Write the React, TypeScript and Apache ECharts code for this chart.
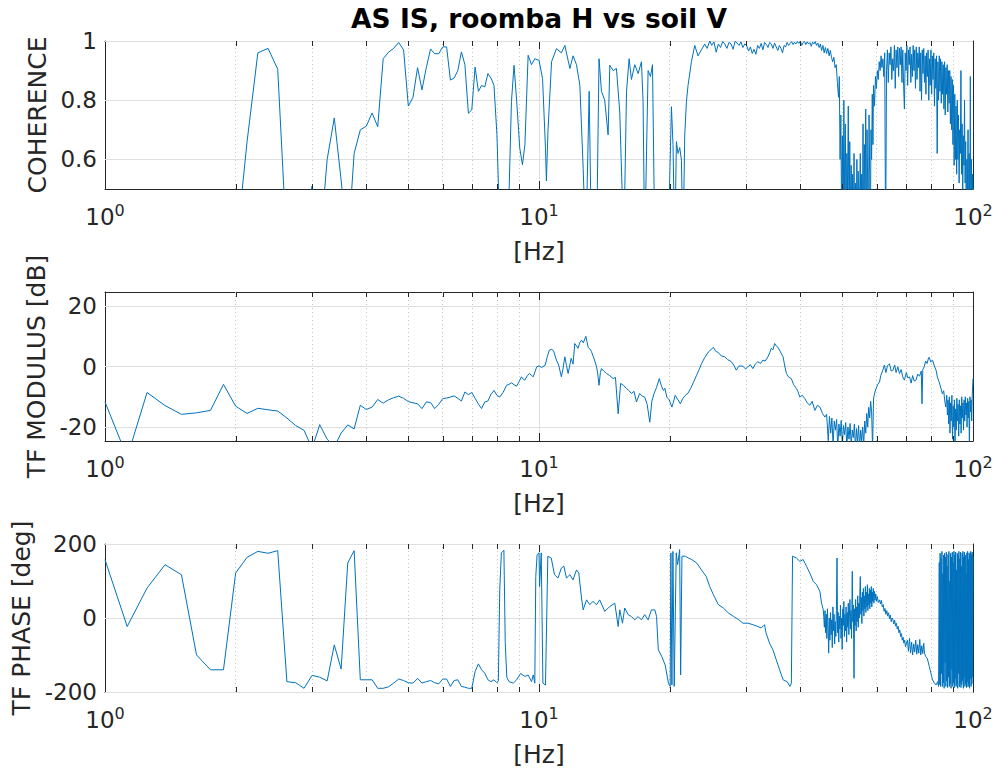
import React, { useEffect, useRef } from 'react';
import * as echarts from 'echarts';

const TITLE = 'AS IS, roomba H vs soil V';
const X_LABEL = '[Hz]';
const Y_LABELS = ['COHERENCE', 'TF MODULUS [dB]', 'TF PHASE [deg]'];
const MINOR_FREQS = [2, 3, 4, 5, 6, 7, 8, 9, 20, 30, 40, 50, 60, 70, 80, 90];
const COH_TICKS = [0.6, 0.8, 1];
const MOD_TICKS = [-20, 0, 20];
const PH_TICKS = [-200, 0, 200];

const COHERENCE: number[][] = [
  [1.0, 0.18], [1.5, 0.3], [2.0, 0.28], [2.125, 0.66], [2.25, 0.96], [2.375, 0.975], [2.5, 0.905], [2.625, 0.3],
  [2.75, 0.2], [2.875, 0.35], [3.0, 0.51], [3.125, 0.3], [3.25, 0.6], [3.375, 0.74], [3.5, 0.53], [3.625, 0.3],
  [3.75, 0.62], [3.875, 0.7], [4.0, 0.712], [4.125, 0.757], [4.25, 0.71], [4.375, 0.94], [4.5, 0.962], [4.625, 0.975],
  [4.75, 0.995], [4.875, 0.97], [5.0, 0.78], [5.125, 0.81], [5.25, 0.91], [5.375, 0.835], [5.5, 0.91], [5.625, 0.973],
  [5.75, 0.957], [5.875, 0.957], [6.0, 0.98], [6.125, 0.98], [6.25, 0.868], [6.375, 0.875], [6.5, 0.9], [6.625, 0.963],
  [6.75, 0.92], [6.875, 0.756], [7.0, 0.767], [7.125, 0.912], [7.25, 0.83], [7.375, 0.85], [7.5, 0.845], [7.625, 0.89],
  [7.75, 0.875], [7.875, 0.85], [8.0, 0.683], [8.125, 0.35], [8.25, 0.2], [8.5, 0.4], [8.64, 0.795], [8.76, 0.918],
  [8.88, 0.8], [9.03, 0.638], [9.16, 0.582], [9.28, 0.65], [9.44, 0.952], [9.61, 0.92], [9.78, 0.94], [10.0, 0.935],
  [10.19, 0.873], [10.35, 0.638], [10.4, 0.527], [10.49, 0.7], [10.69, 0.93], [10.97, 0.974], [11.26, 0.96], [11.47, 0.985],
  [11.78, 0.907], [11.98, 0.95], [12.2, 0.92], [12.42, 0.851], [12.64, 0.57], [12.82, 0.3], [13.05, 0.83], [13.21, 0.3],
  [13.37, 0.45], [13.57, 0.3], [13.75, 0.94], [13.93, 0.83], [14.17, 0.8], [14.43, 0.683], [14.56, 0.918], [14.82, 0.9],
  [15.08, 0.907], [15.35, 0.76], [15.68, 0.3], [15.91, 0.83], [16.13, 0.94], [16.33, 0.87], [16.62, 0.92], [16.92, 0.89],
  [17.22, 0.93], [17.37, 0.795], [17.52, 0.3], [17.84, 0.9], [18.07, 0.88], [18.26, 0.92], [18.49, 0.3], [19.2, 0.25],
  [19.83, 0.3], [20.19, 0.778], [20.36, 0.65], [20.55, 0.3], [20.73, 0.66], [20.91, 0.62], [21.1, 0.64], [21.29, 0.597],
  [21.47, 0.3], [21.67, 0.683], [21.86, 0.795], [22.05, 0.85], [22.45, 0.93], [22.85, 0.985], [23.25, 0.95], [23.67, 0.97],
  [24.09, 0.99], [24.4, 0.975], [24.74, 1.0],
  [25.0, 0.985], [25.3, 0.997], [25.6, 0.962], [25.9, 0.99], [26.2, 0.978], [26.5, 0.998], [26.8, 0.99], [27.1, 0.975],
  [27.4, 0.995], [27.7, 0.99], [28.0, 0.972], [28.3, 0.999], [28.6, 0.993], [28.9, 0.985], [29.2, 0.997], [29.5, 0.978],
  [29.8, 0.99], [30.1, 0.985], [30.4, 0.966], [30.7, 0.98], [31.0, 0.958], [31.3, 0.972], [31.6, 0.955], [31.9, 0.985],
  [32.2, 0.975], [32.5, 0.992], [32.8, 0.97], [33.1, 0.995], [33.4, 0.988], [33.7, 0.978], [34.0, 0.995], [34.3, 0.99],
  [34.6, 0.975], [34.9, 0.993], [35.2, 0.98], [35.5, 0.968], [35.8, 0.985], [36.1, 0.975], [36.4, 0.96], [36.7, 0.985],
  [37.0, 0.98], [37.3, 0.995], [37.6, 0.985], [37.9, 0.992], [38.2, 0.998], [38.5, 0.988], [38.8, 0.996], [39.1, 0.99],
  [39.4, 0.998], [39.7, 0.992], [40.0, 0.999], [40.3, 0.985], [40.6, 0.995], [40.9, 0.998], [41.2, 0.988], [41.5, 0.997],
  [41.8, 0.99], [42.1, 0.995], [42.4, 0.982], [42.7, 0.996], [43.0, 0.99], [43.3, 0.998], [43.6, 0.985], [43.9, 0.993],
  [44.2, 0.978], [44.5, 0.99], [44.8, 0.968], [45.1, 0.985], [45.4, 0.96], [45.7, 0.978], [46.0, 0.958], [46.3, 0.975],
  [46.6, 0.95], [46.9, 0.968], [47.2, 0.945], [47.5, 0.93], [47.8, 0.945], [48.1, 0.91], [48.4, 0.92], [48.7, 0.86],
  [49.0, 0.81], [49.2, 0.88],
  [49.4, 0.6], [49.6, 0.75], [49.8, 0.4], [50.0, 0.68], [50.2, 0.3], [50.4, 0.8], [50.6, 0.45], [50.8, 0.72],
  [51.0, 0.3], [51.2, 0.62], [51.4, 0.5], [51.6, 0.78], [51.8, 0.3], [52.0, 0.66], [52.2, 0.42], [52.4, 0.58],
  [52.6, 0.3], [52.8, 0.55], [53.0, 0.35], [53.2, 0.62], [53.4, 0.3], [53.6, 0.52], [53.8, 0.3], [54.0, 0.6],
  [54.2, 0.4], [54.4, 0.56], [54.6, 0.3], [54.8, 0.48], [55.0, 0.62], [55.2, 0.3], [55.4, 0.55], [55.6, 0.35],
  [55.8, 0.72], [56.0, 0.3], [56.2, 0.65], [56.4, 0.45], [56.6, 0.77], [56.8, 0.3], [57.0, 0.7], [57.2, 0.5],
  [57.4, 0.3], [57.6, 0.75], [57.8, 0.55], [58.0, 0.3], [58.2, 0.7], [58.4, 0.6], [58.6, 0.82], [58.8, 0.65],
  [59.0, 0.85], [59.3, 0.78], [59.6, 0.88], [59.9, 0.84], [60.2, 0.9], [60.5, 0.87], [60.8, 0.93], [61.1, 0.9],
  [61.4, 0.95], [61.7, 0.91], [62.0, 0.94], [62.3, 0.88],
  [62.6, 0.96], [62.9, 0.3], [63.2, 0.9], [63.5, 0.97], [63.8, 0.86], [64.1, 0.96], [64.4, 0.92], [64.7, 0.98],
  [65.0, 0.87], [65.3, 0.94], [65.6, 0.9], [65.9, 0.985], [66.2, 0.84], [66.5, 0.97], [66.8, 0.91], [67.1, 0.98],
  [67.4, 0.88], [67.7, 0.975], [68.0, 0.92], [68.3, 0.98], [68.6, 0.86], [68.9, 0.97], [69.2, 0.85], [69.5, 0.77],
  [69.8, 0.96], [70.1, 0.9], [70.4, 0.985], [70.7, 0.85], [71.0, 0.97], [71.3, 0.92], [71.6, 0.98], [71.9, 0.86],
  [72.2, 0.955], [72.5, 0.88], [72.8, 0.985], [73.1, 0.9], [73.4, 0.97], [73.7, 0.84], [74.0, 0.98], [74.3, 0.87],
  [74.6, 0.96], [74.9, 0.91], [75.2, 0.98], [75.5, 0.83], [75.8, 0.96], [76.1, 0.8], [76.4, 0.97], [76.7, 0.89],
  [77.0, 0.975], [77.3, 0.86], [77.6, 0.95], [77.9, 0.82], [78.2, 0.96], [78.5, 0.88], [78.8, 0.97], [79.1, 0.8],
  [79.4, 0.94], [79.7, 0.85], [80.0, 0.97], [80.3, 0.82], [80.6, 0.95], [80.9, 0.87], [81.2, 0.96], [81.5, 0.78],
  [81.8, 0.94], [82.1, 0.84], [82.4, 0.95], [82.7, 0.62], [83.0, 0.93], [83.3, 0.8], [83.6, 0.95], [83.9, 0.83],
  [84.2, 0.94], [84.5, 0.79], [84.8, 0.93], [85.1, 0.82], [85.4, 0.92], [85.7, 0.77], [86.0, 0.93], [86.3, 0.75],
  [86.6, 0.91], [86.9, 0.82], [87.2, 0.92], [87.5, 0.76], [87.8, 0.9], [88.1, 0.79], [88.4, 0.9], [88.7, 0.72],
  [89.0, 0.88], [89.3, 0.7], [89.6, 0.87],
  [89.9, 0.65], [90.2, 0.85], [90.5, 0.58], [90.8, 0.82], [91.1, 0.6], [91.4, 0.78], [91.7, 0.55], [92.0, 0.8],
  [92.3, 0.6], [92.6, 0.75], [92.9, 0.52], [93.2, 0.7], [93.5, 0.62], [93.8, 0.9], [94.1, 0.55], [94.4, 0.72],
  [94.7, 0.5], [95.0, 0.68], [95.3, 0.58], [95.6, 0.8], [95.9, 0.52], [96.2, 0.66], [96.5, 0.3], [96.8, 0.6],
  [97.1, 0.45], [97.4, 0.7], [97.7, 0.3], [98.0, 0.62], [98.3, 0.4], [98.6, 0.88], [98.9, 0.3], [99.2, 0.6],
  [99.5, 0.35], [99.8, 0.55], [100, 0.5],
];

const MODULUS: number[][] = [
  [1.0, -11.7], [1.125, -30], [1.25, -8.6], [1.375, -12.9], [1.5, -15.8], [1.625, -15.3], [1.75, -14.5], [1.875, -5.9],
  [2.0, -13.1], [2.125, -15.5], [2.25, -13.8], [2.375, -14.3], [2.5, -14.7], [2.625, -17], [2.75, -19.5], [2.875, -21.1],
  [3.0, -27], [3.125, -19.2], [3.25, -24], [3.375, -26.5], [3.5, -22], [3.625, -19.3], [3.75, -20.6], [3.875, -12.8],
  [4.0, -14.2], [4.125, -13.4], [4.25, -10.9], [4.375, -12.1], [4.5, -11.0], [4.625, -10.3], [4.75, -9.8], [4.875, -10.5],
  [5.0, -11.6], [5.125, -12.0], [5.25, -12.3], [5.375, -13.9], [5.5, -11.7], [5.625, -11.9], [5.75, -13.9], [5.875, -12.5],
  [6.0, -10.6], [6.125, -10.4], [6.25, -10.1], [6.375, -9.7], [6.5, -10.5], [6.625, -11.4], [6.75, -8.4], [6.875, -9.3],
  [7.0, -8.6], [7.125, -10.5], [7.25, -12.4], [7.375, -13.9], [7.5, -11.7], [7.625, -11.4], [7.75, -9.2], [7.875, -7.9],
  [8.0, -9.5], [8.12, -10.1], [8.27, -8.5], [8.42, -6.2], [8.55, -5.8], [8.64, -5.4], [8.76, -6.0], [8.88, -6.5],
  [9.0, -5.0], [9.11, -3.4], [9.2, -4.2], [9.28, -4.5], [9.4, -3.0], [9.52, -2.3], [9.6, -2.9], [9.7, -3.4],
  [9.8, -1.5], [9.88, -0.1], [10.0, 0.2], [10.14, -0.3], [10.33, 0.4], [10.45, 3.2], [10.56, 5.4], [10.68, 5.7],
  [10.8, 5.2], [10.97, 2.1], [11.1, 0.5], [11.26, -3.4], [11.35, -1.0], [11.47, 3.2], [11.57, 0.4], [11.67, -2.3],
  [11.78, 0.5], [11.86, 2.7], [11.98, 0.8], [12.09, 7.6], [12.2, 6.8], [12.3, 6.0], [12.42, 7.9], [12.53, 8.7],
  [12.65, 7.8], [12.82, 10.0], [12.9, 8.2], [12.98, 6.3], [13.1, 5.8], [13.21, 4.9], [13.4, 2.5], [13.57, -0.1],
  [13.66, -2.5], [13.75, -6.2], [13.85, -2.0], [13.93, -0.7], [14.1, -1.5], [14.3, -2.3], [14.55, -3.0], [14.82, -4.0],
  [15.0, -3.6], [15.22, -15.6], [15.42, -5.6], [15.65, -6.2], [15.91, -7.3], [16.1, -7.9], [16.33, -8.9], [16.55, -8.2],
  [16.77, -11.7], [17.06, -8.9], [17.3, -9.8], [17.52, -10.1], [17.75, -12.5], [18.0, -18.4], [18.2, -11.5], [18.4, -9.0],
  [18.65, -7.0], [18.93, -4.0], [19.15, -6.5], [19.35, -7.9], [19.5, -7.2], [19.7, -10.1], [19.95, -11.0], [20.24, -13.4],
  [20.4, -11.8], [20.6, -9.5], [20.9, -11.0], [21.17, -12.3], [21.45, -10.5], [21.75, -9.5], [22.05, -8.8], [22.35, -7.3],
  [22.7, -5.2], [23.07, -2.9], [23.4, -1.0], [23.68, 0.9], [24.1, 3.0], [24.59, 4.9], [24.9, 5.6], [25.23, 6.3],
  [25.55, 5.0], [25.9, 4.6], [26.3, 3.5], [26.8, 3.2], [27.2, 2.3], [27.75, 1.6], [28.1, 0.5], [28.48, -1.2],
  [28.9, 0.2], [29.5, 0.1], [29.9, -0.8], [30.29, -0.1], [30.7, 0.6], [31.1, -0.7], [31.5, 0.8], [31.94, 1.6],
  [32.4, 1.0], [32.8, 2.1], [33.2, 1.8], [33.69, 3.2], [34.0, 4.5], [34.29, 6.0], [34.6, 5.5], [34.91, 7.6],
  [35.2, 6.8], [35.55, 6.3], [36.0, 4.8], [36.51, 3.2], [36.8, 0.5], [37.15, -2.3], [37.6, -3.5], [38.15, -4.0],
  [38.6, -6.0], [39.19, -7.3], [39.5, -8.2], [39.9, -10.1], [40.4, -9.5], [40.98, -10.6], [41.5, -12.0], [42.09, -12.8],
  [42.6, -11.5], [43.22, -14.5], [43.8, -12.8], [44.38, -13.4], [45.0, -15.5], [45.59, -16.7], [46.0, -15.8],
  [46.4, -24.5], [46.7, -16.5], [47.0, -22], [47.3, -17], [47.6, -26], [47.9, -18], [48.2, -21], [48.5, -17.5],
  [48.8, -27], [49.1, -19], [49.4, -23], [49.7, -17.8], [50.0, -26], [50.3, -19.5], [50.6, -22.5], [50.9, -18.5],
  [51.2, -27], [51.5, -20], [51.8, -24], [52.1, -18.8], [52.4, -26], [52.7, -21], [53.0, -23.5], [53.3, -19],
  [53.6, -27], [53.9, -20.5], [54.2, -25], [54.5, -19.5], [54.8, -27], [55.1, -21], [55.4, -24.5], [55.7, -20],
  [56.0, -26], [56.3, -18], [56.6, -22], [56.9, -15.5], [57.2, -20], [57.5, -13.5], [57.8, -17], [58.1, -11.5],
  [58.4, -15], [58.7, -27], [59.0, -10.5], [59.4, -8.5], [59.8, -7.3], [60.3, -6.0], [60.9, -5.1], [61.3, -3.0],
  [62.0, -1.2], [62.5, 0.5], [63.0, -2.0], [63.5, 0.2], [64.2, 0.9], [64.8, -1.5], [65.4, -1.2], [66.0, 0.5],
  [66.5, -2.0], [67.1, -0.1], [67.7, -2.3], [68.3, -1.0], [68.9, -3.5], [69.5, -4.5], [70.2, -2.0], [70.8, -3.8],
  [71.4, -3.4], [72.0, -5.5], [72.6, -3.0], [73.2, -4.8], [73.9, -4.5], [74.6, -2.5], [75.3, -3.2], [76.0, -1.5],
  [76.3, -12.3], [76.6, -1.0], [77.2, -0.1], [77.8, 1.8], [78.4, 1.0], [79.0, 2.9], [79.3, 3.0], [79.9, 1.5],
  [80.7, 2.1], [81.3, 0.5], [82.2, -1.2], [82.8, -3.5], [83.5, -5.0], [84.4, -7.3], [85.0, -9.0], [85.6, -8.0],
  [86.2, -12.0], [86.6, -13.4],
  [87.0, -9.5], [87.3, -16], [87.6, -11], [87.9, -19], [88.2, -10], [88.5, -22], [88.8, -12], [89.1, -18],
  [89.4, -9.5], [89.7, -24], [90.0, -13], [90.3, -20], [90.6, -11], [90.9, -26], [91.2, -14], [91.5, -21],
  [91.8, -10.5], [92.1, -18], [92.4, -12.5], [92.7, -23], [93.0, -11], [93.3, -19], [93.6, -13], [93.9, -22],
  [94.2, -10], [94.5, -17], [94.8, -12], [95.1, -21], [95.4, -11], [95.7, -18], [96.0, -10], [96.3, -16],
  [96.6, -12], [96.9, -20], [97.2, -10.5], [97.5, -17], [97.8, -11.5], [98.1, -26], [98.4, -10], [98.7, -15],
  [99.0, -11], [99.3, -18], [99.6, -9.5], [100, -4.0],
];

const PHASE: number[][] = [
  [1.0, 157.6], [1.125, -23], [1.25, 81], [1.375, 144], [1.5, 117], [1.625, -99.7], [1.75, -140], [1.875, -140],
  [2.0, 121.5], [2.125, 164], [2.25, 180], [2.375, 175], [2.5, 182], [2.625, -172], [2.75, -175], [2.875, -190],
  [3.0, -155], [3.125, -160], [3.25, -170], [3.375, -72.6], [3.5, -138], [3.625, 148.6], [3.75, 182], [3.875, -167],
  [4.0, -167], [4.125, -167], [4.25, -190], [4.375, -190], [4.5, -186], [4.625, -176], [4.75, -165], [4.875, -169],
  [5.0, -175], [5.125, -176], [5.25, -163], [5.375, -176], [5.5, -172], [5.625, -169], [5.75, -175], [5.875, -178],
  [6.0, -165], [6.125, -165], [6.25, -185], [6.375, -169], [6.5, -167], [6.625, -185], [6.75, -187], [6.875, -190],
  [7.0, -190], [7.125, -145], [7.25, -124], [7.375, -140], [7.5, -149], [7.625, -167], [7.75, -172], [7.875, -167],
  [8.0, -175], [8.06, -170], [8.12, 76], [8.19, 176], [8.3, 183], [8.36, -66], [8.43, -160], [8.53, -172],
  [8.72, -176], [8.88, -167], [9.07, -150], [9.28, -158], [9.44, -154], [9.61, -172], [9.7, -154], [9.78, -176],
  [9.83, 112], [9.9, 171], [10.0, 176], [10.03, 85], [10.12, 176], [10.21, -176], [10.35, -181], [10.48, 167],
  [10.67, 162], [10.86, 117], [11.06, 108], [11.26, 135], [11.41, 140], [11.57, 108], [11.78, 117], [11.98, 103],
  [12.2, 130], [12.35, 121.5], [12.53, 54], [12.64, 22], [12.87, 49], [13.09, 36], [13.32, 45], [13.57, 36],
  [13.8, 49], [14.17, 18], [14.56, 31], [14.95, 40], [15.22, -23], [15.35, 22], [15.57, -14], [15.76, 27],
  [16.05, 9], [16.33, 4], [16.62, -5], [16.92, 4], [17.22, -5], [17.52, 9], [17.84, -5], [18.16, 22],
  [18.49, 22], [18.66, 4], [18.83, -86], [19.18, -104], [19.53, -127], [19.88, -177], [20.06, -185], [20.13, 176],
  [20.24, -181], [20.35, 180], [20.49, -185], [20.71, 176], [20.86, 144], [20.97, 162], [21.09, 185], [21.2, -154],
  [21.35, 167], [21.75, 167], [22.1, 162], [22.49, 158], [23.07, 149], [23.68, 130], [24.29, 112], [24.74, 85],
  [25.23, 63], [25.9, 36], [26.6, 27], [27.35, 13], [28.1, 4], [28.88, -5], [29.5, -14], [30.29, -14],
  [31.1, -18], [31.94, -23], [32.52, -27], [33.09, -18], [33.37, -41], [33.98, -68], [34.59, -86], [35.22, -113],
  [35.85, -140], [36.51, -167], [37.31, -172], [37.86, -185], [38.15, -176], [38.39, 167], [39.19, 162], [39.9, 153],
  [40.61, 158], [41.34, 140], [42.09, 121], [42.84, 99], [43.6, 90], [44.38, 72], [44.78, 40], [45.18, 22],
  [45.3, 5], [45.45, -25], [45.6, 20], [45.75, -40], [45.9, 10], [46.05, -55], [46.2, 25], [46.35, -30],
  [46.5, -95], [46.65, 0], [46.8, -60], [46.95, 15], [47.1, -45], [47.25, -5], [47.4, -80], [47.55, 30],
  [47.7, -35], [47.85, 10], [48.0, -70], [48.15, -10], [48.3, -50], [48.45, 20], [48.6, 162], [48.75, -40],
  [48.9, 15], [49.05, -65], [49.2, 5], [49.35, -30], [49.5, 35], [49.65, -55], [49.8, 0], [49.95, -85],
  [50.1, 25], [50.25, -20], [50.4, 45], [50.55, -50], [50.7, 10], [50.85, -35], [51.0, 30], [51.15, -65],
  [51.3, 15], [51.45, -25], [51.6, 40], [51.75, -45], [51.9, 5], [52.05, 50], [52.2, -30], [52.35, 20],
  [52.5, -55], [52.7, 126], [52.85, -10], [53.0, 35], [53.2, -163], [53.35, 25], [53.5, -20], [53.65, 50],
  [53.8, -35], [53.95, 30], [54.1, -10], [54.25, 60], [54.4, -25], [54.55, 40], [54.7, 0], [54.85, 65],
  [55.0, 112], [55.15, 10], [55.3, 55], [55.45, -15], [55.6, 70], [55.75, 20], [55.9, 80], [56.05, 5],
  [56.2, 60], [56.35, 25], [56.5, 85], [56.65, 15], [56.8, 70], [56.95, 30], [57.1, 90], [57.25, 20],
  [57.4, 65], [57.55, 35], [57.7, 80], [57.85, 25], [58.0, 75], [58.15, 40], [58.3, 85], [58.45, 30],
  [58.6, 70], [58.75, 45], [58.9, 80], [59.1, 40], [59.3, 72], [59.5, 48], [59.7, 65], [59.9, 45],
  [60.2, 58], [60.5, 42], [60.9, 49], [61.2, 38], [61.5, 48], [61.8, 30], [62.1, 36], [62.4, 18],
  [62.7, 26], [63.0, 10], [63.3, 20], [63.6, 5], [63.9, 14], [64.2, -2], [64.5, 8], [64.8, -10],
  [65.1, 0], [65.4, -5], [65.7, -16], [66.0, -6], [66.3, -22], [66.6, -14], [66.9, -30], [67.2, -22],
  [67.5, -40], [67.8, -32], [68.1, -50], [68.4, -42], [68.7, -60], [69.0, -52], [69.3, -68], [69.6, -60],
  [69.9, -78], [70.2, -70],
  [70.6, -60], [71.0, -90], [71.4, -55], [71.8, -95], [72.2, -65], [72.6, -100], [73.0, -70], [73.4, -92],
  [73.8, -60], [74.2, -98], [74.6, -72], [75.0, -95], [75.4, -58], [75.8, -100], [76.2, -75], [76.6, -96],
  [77.0, -68], [77.3, -95], [77.8, -104], [78.5, -110], [79.3, -131], [80.0, -150], [80.7, -167], [81.4, -175],
  [82.2, -181], [82.9, -172], [83.3, -185],
  [83.6, 150], [83.8, -180], [84.0, 175], [84.2, -185], [84.4, 160], [84.6, -150], [84.8, 180], [85.0, -185],
  [85.2, 120], [85.4, -175], [85.6, 170], [85.8, -190], [86.0, 175], [86.2, -120], [86.4, 165], [86.6, -185],
  [86.8, 178], [87.0, -170], [87.2, 140], [87.4, -188], [87.6, 172], [87.8, -160], [88.0, 180], [88.2, -185],
  [88.4, 100], [88.6, -178], [88.8, 175], [89.0, -190], [89.2, 165], [89.4, -140], [89.6, 178], [89.8, -185],
  [90.0, 150], [90.2, -175], [90.4, 180], [90.6, -188], [90.8, 170], [91.0, -165], [91.2, 178], [91.4, -185],
  [91.6, 130], [91.8, -180], [92.0, 175], [92.2, -190], [92.4, 168], [92.6, -150], [92.8, 180], [93.0, -186],
  [93.2, 160], [93.4, -175], [93.6, 178], [93.8, -188], [94.0, 140], [94.2, -180], [94.4, 175], [94.6, -170],
  [94.8, 180], [95.0, -190], [95.2, 165], [95.4, -160], [95.6, 178], [95.8, -185], [96.0, 170], [96.2, -178],
  [96.4, 120], [96.6, -188], [96.8, 176], [97.0, -172], [97.2, 180], [97.4, -186], [97.6, 158], [97.8, -180],
  [98.0, 176], [98.2, -190], [98.4, 170], [98.6, -165], [98.8, 180], [99.0, -185], [99.2, 172], [99.4, -178],
  [99.6, 178], [99.8, -160], [100, 165],
];

const FONT = 'DejaVu Sans';
const AX = '#262626';
const LINE = '#0072BD';
const GRID_C = '#dfdfdf';
const MINOR_C = '#c4c4c4';

const PANELS = [
  { data: COHERENCE, ticks: COH_TICKS, min: 0.5, max: 1, name: Y_LABELS[0], nameGap: 54, top: 41, height: 148 },
  { data: MODULUS, ticks: MOD_TICKS, min: -24.6, max: 24.6, name: Y_LABELS[1], nameGap: 54, top: 292, height: 149 },
  { data: PHASE, ticks: PH_TICKS, min: -200, max: 200, name: Y_LABELS[2], nameGap: 69, top: 544, height: 148 },
];

function buildOption() {
  const grid: any[] = [];
  const xAxis: any[] = [];
  const yAxis: any[] = [];
  const series: any[] = [];
  PANELS.forEach((p, i) => {
    grid.push({ left: 105, right: 27, top: p.top, height: p.height, containLabel: false, show: false });
    xAxis.push({
      gridIndex: i, type: 'log', logBase: 10, min: 1, max: 100, position: 'bottom', z: 0,
      axisLine: { show: true, onZero: false, lineStyle: { color: AX, width: 1 } },
      axisTick: { show: true, inside: true, length: 8, lineStyle: { color: AX, width: 1 } },
      axisLabel: {
        show: true, margin: 13, showMinLabel: true, showMaxLabel: true,
        formatter: (v: number) => `{b|10}{s|${Math.round(Math.log10(v))}}`,
        rich: {
          b: { fontSize: 23, fontFamily: FONT, color: AX, lineHeight: 30 },
          s: { fontSize: 16, fontFamily: FONT, color: AX, lineHeight: 14, verticalAlign: 'top' },
        },
      },
      splitLine: { show: true, lineStyle: { color: GRID_C, width: 1 } },
      name: X_LABEL, nameLocation: 'middle', nameGap: 50,
      nameTextStyle: { fontFamily: FONT, fontSize: 25, color: AX },
    });
    xAxis.push({
      gridIndex: i, type: 'log', logBase: 10, min: 1, max: 100, position: 'top',
      axisLine: { show: true, onZero: false, lineStyle: { color: AX, width: 1 } },
      axisTick: { show: true, inside: true, length: 8, lineStyle: { color: AX, width: 1 } },
      axisLabel: { show: false }, splitLine: { show: false },
    });
    yAxis.push({
      gridIndex: i, type: 'value', min: p.min, max: p.max, position: 'left',
      axisLine: { show: true, onZero: false, lineStyle: { color: AX, width: 1 } },
      axisTick: { show: true, inside: true, length: 9, customValues: p.ticks, lineStyle: { color: AX, width: 1 } },
      axisLabel: {
        show: true, customValues: p.ticks, fontSize: 23, fontFamily: FONT, color: AX, margin: 8,
        showMinLabel: true, showMaxLabel: true,
      },
      splitLine: { show: false },
      name: p.name, nameLocation: 'middle', nameGap: p.nameGap,
      nameTextStyle: { fontFamily: FONT, fontSize: 25, color: AX },
    });
    yAxis.push({
      gridIndex: i, type: 'value', min: p.min, max: p.max, position: 'right',
      axisLine: { show: true, onZero: false, lineStyle: { color: AX, width: 1 } },
      axisTick: { show: true, inside: true, length: 9, customValues: p.ticks, lineStyle: { color: AX, width: 1 } },
      axisLabel: { show: false }, splitLine: { show: false },
    });
    series.push({
      type: 'line', xAxisIndex: 2 * i, yAxisIndex: 2 * i, data: [], z: 1, silent: true,
      markLine: {
        silent: true, z: 1, symbol: ['none', 'none'], label: { show: false }, animation: false,
        data: [
          ...p.ticks.map((v) => ({ yAxis: v, lineStyle: { color: GRID_C, type: 'solid', width: 1 } })),
          ...MINOR_FREQS.map((f) => ({ xAxis: f, lineStyle: { color: MINOR_C, type: [1, 3], width: 1 } })),
        ],
      },
    });
    series.push({
      type: 'custom', xAxisIndex: 2 * i, yAxisIndex: 2 * i, z: 5, silent: true, clip: false,
      data: MINOR_FREQS.map((f) => [f, p.min]),
      renderItem: (params: any, api: any) => {
        const pt = api.coord([api.value(0), api.value(1)]);
        const cs = params.coordSys;
        const x = Math.round(pt[0]) + 0.5;
        const y0 = cs.y;
        const y1 = cs.y + cs.height;
        return {
          type: 'group',
          children: [
            { type: 'line', shape: { x1: x, y1: y1, x2: x, y2: y1 - 5 }, style: { stroke: AX, lineWidth: 1 } },
            { type: 'line', shape: { x1: x, y1: y0, x2: x, y2: y0 + 5 }, style: { stroke: AX, lineWidth: 1 } },
          ],
        };
      },
    });
    series.push({
      type: 'line', xAxisIndex: 2 * i, yAxisIndex: 2 * i, data: p.data, z: 3, silent: true,
      showSymbol: false, symbol: 'none', clip: true,
      lineStyle: { color: LINE, width: 1 },
    });
  });
  return {
    animation: false,
    backgroundColor: '#ffffff',
    grid, xAxis, yAxis, series,
    graphic: [
      {
        type: 'text', x: 539, y: 18,
        style: { text: TITLE, font: `bold 26.5px "${FONT}"`, fill: '#000000', textAlign: 'center', textVerticalAlign: 'middle' },
      },
    ],
  };
}

export default function App() {
  const ref = useRef<HTMLDivElement>(null);
  useEffect(() => {
    if (!ref.current) return;
    const chart = echarts.init(ref.current, undefined, { renderer: 'svg' });
    chart.setOption(buildOption() as any);
    return () => chart.dispose();
  }, []);
  return (
    <div
      ref={ref}
      style={{ position: 'absolute', left: 0, top: 0, width: 1000, height: 773, background: '#ffffff' }}
    />
  );
}
